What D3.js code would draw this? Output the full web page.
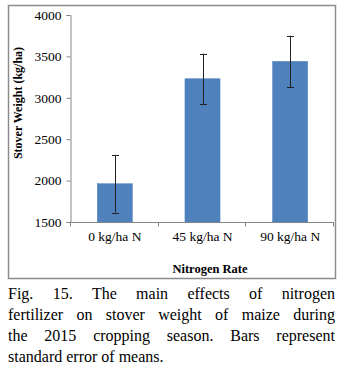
<!DOCTYPE html>
<html>
<head>
<meta charset="utf-8">
<script src="https://cdn.jsdelivr.net/npm/d3@7"></script>
<style>
  body { margin: 0; background: #fff; }
  svg text { font-family: "Liberation Serif", "Times New Roman", serif; fill: #000; }
</style>
</head>
<body>
<div id="chart"></div>
<script>
// Stover weight by nitrogen rate, with standard error
var categories = ["0 kg/ha N", "45 kg/ha N", "90 kg/ha N"];
var means = [1962, 3230, 3440];
var stdErrors = [348, 302, 310];
var yTicks = [1500, 2000, 2500, 3000, 3500, 4000];
var captionLines = [
  "Fig. 15. The main effects of nitrogen",
  "fertilizer on stover weight of maize during",
  "the 2015 cropping season. Bars represent",
  "standard error of means."
];

var W = 346, H = 372;
var plot = {left: 71, right: 334, top: 15, bottom: 222};

var svg = d3.select("#chart").append("svg")
    .attr("width", W)
    .attr("height", H);

// chart frame
svg.append("rect")
    .attr("x", 8.5).attr("y", 5.5)
    .attr("width", 327).attr("height", 273)
    .attr("fill", "#fff")
    .attr("stroke", "#8c8c8c")
    .attr("stroke-width", 1.5);

var x = d3.scaleBand()
    .domain(categories)
    .range([plot.left, plot.right])
    .paddingInner(0)
    .paddingOuter(0);

var y = d3.scaleLinear()
    .domain([1500, 4000])
    .range([plot.bottom, plot.top]);

var barW = x.bandwidth() * 0.4;

// bars
svg.selectAll("rect.bar")
    .data(means)
    .enter().append("rect")
    .attr("class", "bar")
    .attr("x", function(d, i) { return x(categories[i]) + (x.bandwidth() - barW) / 2; })
    .attr("y", function(d) { return y(d); })
    .attr("width", barW)
    .attr("height", function(d) { return y(1500) - y(d); })
    .attr("fill", "#4f81bd")
    .attr("stroke", "#4a7ebb")
    .attr("stroke-width", 0.5);

// error bars
var err = svg.selectAll("g.err")
    .data(means)
    .enter().append("g")
    .attr("class", "err")
    .attr("stroke", "#222")
    .attr("stroke-width", 1);

err.append("line")
    .attr("x1", function(d, i) { return Math.round(x(categories[i]) + x.bandwidth() / 2) + 0.5; })
    .attr("x2", function(d, i) { return Math.round(x(categories[i]) + x.bandwidth() / 2) + 0.5; })
    .attr("y1", function(d, i) { return y(d + stdErrors[i]); })
    .attr("y2", function(d, i) { return y(d - stdErrors[i]); });

[1, -1].forEach(function(s) {
  err.append("line")
      .attr("x1", function(d, i) { return Math.round(x(categories[i]) + x.bandwidth() / 2) - 3; })
      .attr("x2", function(d, i) { return Math.round(x(categories[i]) + x.bandwidth() / 2) + 4; })
      .attr("y1", function(d, i) { return Math.round(y(d + s * stdErrors[i])) + 0.5; })
      .attr("y2", function(d, i) { return Math.round(y(d + s * stdErrors[i])) + 0.5; });
});

// y axis
var yAxis = svg.append("g")
    .attr("transform", "translate(" + (plot.left - 0.5) + ",0)")
    .call(d3.axisLeft(y).tickValues(yTicks).tickSize(4).tickPadding(5).tickFormat(d3.format("d")));
yAxis.select(".domain").attr("stroke", "#868686");
yAxis.selectAll(".tick line").attr("stroke", "#868686");
yAxis.selectAll("text").attr("font-size", 13.5).attr("fill", "#000")
    .attr("font-family", "'Liberation Serif', 'Times New Roman', serif");

// x axis with ticks at category boundaries
var xg = svg.append("g")
    .attr("transform", "translate(0," + (plot.bottom + 0.5) + ")");
xg.append("line")
    .attr("x1", plot.left - 4).attr("x2", plot.right)
    .attr("stroke", "#868686");
xg.selectAll("line.bound")
    .data(categories.concat([null]))
    .enter().append("line")
    .attr("class", "bound")
    .attr("x1", function(d, i) { return Math.round(plot.left + i * x.bandwidth()) - 0.5; })
    .attr("x2", function(d, i) { return Math.round(plot.left + i * x.bandwidth()) - 0.5; })
    .attr("y1", 0).attr("y2", 4)
    .attr("stroke", "#868686");
xg.selectAll("text")
    .data(categories)
    .enter().append("text")
    .attr("x", function(d) { return x(d) + x.bandwidth() / 2; })
    .attr("y", 18.5)
    .attr("text-anchor", "middle")
    .attr("font-size", 13.5)
    .text(function(d) { return d; });

// axis titles
svg.append("text")
    .attr("transform", "translate(22,103) rotate(-90)")
    .attr("text-anchor", "middle")
    .attr("font-size", 12)
    .attr("font-weight", "bold")
    .text("Stover Weight (kg/ha)");

svg.append("text")
    .attr("x", 210)
    .attr("y", 273)
    .attr("text-anchor", "middle")
    .attr("font-size", 12.5)
    .attr("font-weight", "bold")
    .text("Nitrogen Rate");

// justified caption
var capLeft = 8, capRight = 335, capSize = 16;
var cap = svg.append("g").attr("font-size", capSize);
captionLines.forEach(function(line, li) {
  var words = line.split(" ");
  var baseY = 299 + li * 21;
  var widths = words.map(function(w) {
    var t = cap.append("text").text(w);
    var wd = t.node().getComputedTextLength();
    t.remove();
    return wd;
  });
  var total = d3.sum(widths);
  var last = li === captionLines.length - 1;
  var gap = last ? capSize * 0.25 : (capRight - capLeft - total) / (words.length - 1);
  var cx = capLeft;
  words.forEach(function(w, wi) {
    cap.append("text")
        .attr("x", cx)
        .attr("y", baseY)
        .text(w);
    cx += widths[wi] + gap;
  });
});
</script>
</body>
</html>
